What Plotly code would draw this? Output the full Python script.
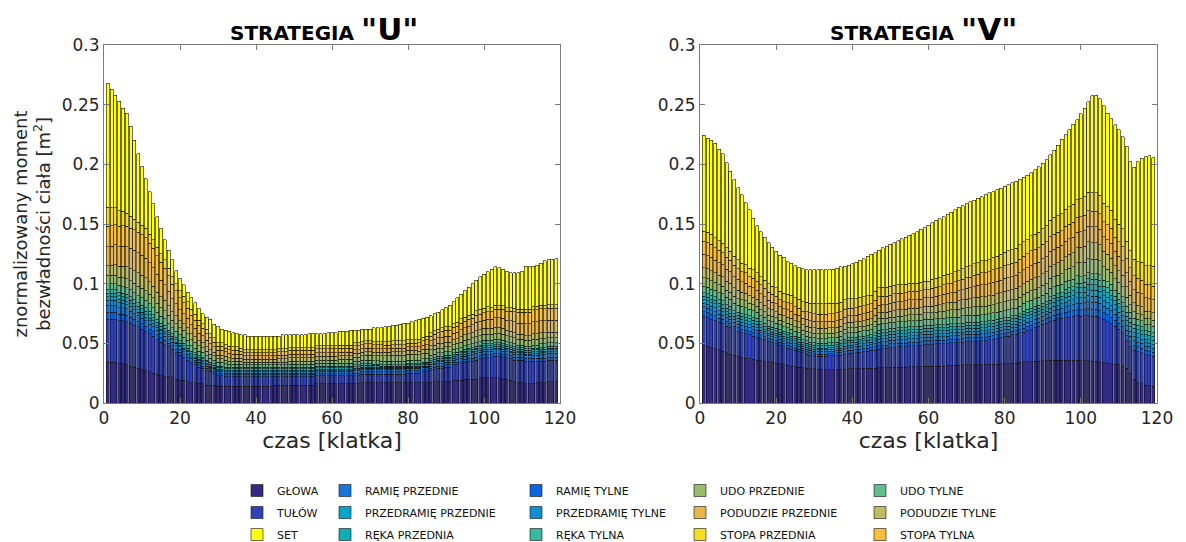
import plotly.graph_objects as go

FRAMES = list(range(1, 120))

# ---------- Strategia "U" (values in 1e-3 m^2) ----------
U_TOTAL = [
268,263,258,253,247,243,232,220,209,198,
188,177,167,156,146,137,128,120,111,104,
99,93,88,84,79,75,72,70,66,64,
62,61,60,59,58,57,57,56,56,56,
56,56,56,56,56,56,57,57,57,57,
57,57,57,58,58,58,58,58,59,59,
59,60,60,60,61,61,61,62,62,62,
63,63,63,64,64,65,65,66,67,67,
68,69,70,71,72,73,75,76,78,80,
82,85,88,91,94,97,100,103,106,108,
110,112,114,113.5,112,110.5,109,109,109,110,
114.5,114,114.5,115.5,117,119,120,120.5,121]
U_GLOWA = [
34,34,34,33,33,32,31,30,29,28,
27,26,25,24,23,22,22,21,20,19,
19,18,17,17,16,16,15,15,15,14,
14,14,14,14,14,14,14,14,14,14,
14,14,14,14,15,15,15,15,15,15,
15,15,15,15,15,16,16,16,16,16,
16,16,16,16,16,16,16,17,17,17,
17,17,17,17,17,17,17,17,17,17,
17,17,17,17,17,17,18,18,18,18,
18,19,19,19,20,20,20,20,21,21,
21,21,21,21,20,20,19,18,17,17,
16,16,16,17,17,17,18,18,18]
U_TULOW = [
36,36,36,36,36,36,36,35,35,34,
33,32,31,29,28,27,25,24,22,21,
19,18,16,15,14,13,12,11,10,9,
9,8,8,8,8,8,8,8,8,8,
8,8,8,8,7,7,7,7,7,7,
7,7,7,7,7,7,7,7,7,7,
7,7,7,7,7,7,7,7,7,7,
7,7,7,7,7,7,7,7,7,8,
8,8,8,9,9,10,10,11,11,12,
12,13,13,14,14,15,15,16,16,17,
17,17,18,18,18,18,18,18,19,19,
19,19,19,18,18,18,18,18,18]
U_RAMIE_T = [
6,6,6,5.5,5.5,5.5,5,5,4.5,4.5,
4.5,4,4,4,3.5,3.5,3,3,3,2.5,
2.5,2.5,2,2,2,2,2,1.5,1.5,1.5,
1.5,1.5,1.5,1.5,1.5,1.5,1.5,1.5,1.5,1.5,
1.5,1.5,1.5,1.5,1.5,1.5,1.5,1.5,1.5,1.5,
1.5,1.5,1.5,1.5,1.5,1.5,1.5,1.5,1.5,1.5,
1.5,1.5,1.5,1.5,1.5,2,2,2,2,2,
2,2,2,2,2,2,2,2,2,2,
2,2,2,2,2,2,2,2,2,2,
2,2,2,2,2.5,2.5,2.5,2.5,2.5,2.5,
2.5,2.5,2.5,2.5,2.5,2.5,2.5,2.5,2.5,2.5,
2.5,2.5,2.5,2.5,2.5,2.5,2.5,2.5,2.5]
U_RAMIE_P = [
6,6,6,5.5,5.5,5.5,5,5,4.5,4.5,
4.5,4,4,4,3.5,3.5,3,3,3,2.5,
2.5,2.5,2,2,2,2,2,1.5,1.5,1.5,
1.5,1.5,1.5,1.5,1.5,1.5,1.5,1.5,1.5,1.5,
1.5,1.5,1.5,1.5,1.5,1.5,1.5,1.5,1.5,1.5,
1.5,1.5,1.5,1.5,1.5,1.5,1.5,1.5,1.5,1.5,
1.5,1.5,1.5,1.5,1.5,2,2,2,2,2,
2,2,2,2,2,2,2,2,2,2,
2,2,2,2,2,2,2,2,2,2,
2,2,2.5,2.5,2.5,2.5,3,3,3,3,
3,3,3,3,3,2.5,2.5,2.5,2,2,
2,2,2.5,2.5,3,3,3,3,3]
U_PRZEDR_T = [
4,4,4,4,3.5,3.5,3.5,3,3,3,
3,3,3,2.5,2.5,2.5,2.5,2,2,2,
2,2,1.5,1.5,1.5,1.5,1,1,1,1,
1,1,1,1,1,1,1,1,1,1,
1,1,1,1,1,1,1,1,1,1,
1,1,1,1,1,1,1,1,1,1,
1,1,1,1,1,1,1,1,1,1,
1,1,1,1,1,1,1,1,1,1,
1,1,1,1,1,1.5,1.5,1.5,1.5,1.5,
1.5,1.5,1.5,1.5,1.5,1.5,1.5,1.5,1.5,1.5,
1.5,1.5,1.5,1.5,1.5,1.5,1.5,1.5,1.5,1.5,
1.5,1.5,1.5,1.5,1.5,1.5,1.5,1.5,1.5]
U_PRZEDR_P = [
3,3,3,3,2.5,2.5,2.5,2.5,2,2,
2,2,2,1.5,1.5,1.5,1.5,1,1,1,
1,1,1,1,1,1,1,1,1,1,
1,1,1,1,1,1,1,1,1,1,
1,1,1,1,1,1,1,1,1,1,
1,1,1,1,1,1,1,1,1,1,
1,1,1,1,1,1,1,1,1,1,
1,1,1,1,1,1,1,1,1,1,
1,1,1,1,1,1.5,1.5,1.5,1.5,1.5,
1.5,1.5,1.5,1.5,1.5,1.5,1.5,1.5,1.5,1.5,
1.5,1.5,1.5,1.5,1.5,1.5,1.5,1.5,1.5,1.5,
1.5,1.5,1.5,1.5,1.5,1.5,1.5,1.5,1.5]
U_REKA_P = [
3,3,3,3,3,3,3,3,3,3,
3,3,2.5,2.5,2.5,2.5,2,2,2,2,
2,2,2,2,1.5,1.5,1.5,1.5,1.5,1.5,
1.5,1.5,1.5,1.5,1.5,1.5,1.5,1.5,1.5,1.5,
1.5,1.5,1.5,1.5,1.5,1.5,1.5,1.5,1.5,1.5,
1.5,1.5,1.5,1.5,1.5,1.5,1.5,1.5,1.5,1.5,
1.5,1.5,1.5,1.5,1.5,1.5,1.5,1.5,1.5,1.5,
1.5,1.5,1,1,1,1,1,1,1,1,
1,1,1,1,1,1.5,1.5,1.5,1.5,1.5,
1.5,1.5,1.5,1.5,1.5,1.5,1.5,1.5,1.5,1.5,
1.5,1.5,1.5,1.5,1.5,1.5,1.5,1.5,1.5,1.5,
1.5,1.5,1.5,1.5,1.5,1.5,1.5,1.5,1.5]
U_REKA_T = [
3,3,3,3,3,3,3,3,3,3,
3,3,2.5,2.5,2.5,2.5,2,2,2,2,
2,2,2,1.5,1.5,1.5,1.5,1.5,1.5,1.5,
1.5,1.5,1.5,1.5,1.5,1.5,1.5,1.5,1.5,1.5,
1.5,1.5,1.5,1.5,1.5,1.5,1.5,1.5,1.5,1.5,
1.5,1.5,1.5,1.5,1.5,1.5,1.5,1.5,1.5,1.5,
1.5,1.5,1.5,1.5,1.5,1.5,1.5,1.5,1.5,1.5,
1,1,1,1,1,1,1,1,1,1,
1,1,1,1,1,1.5,1.5,1.5,1.5,1.5,
1.5,1.5,1.5,1.5,1.5,1.5,1.5,1.5,1.5,1.5,
1.5,1.5,1.5,1.5,1.5,1.5,1.5,1.5,1.5,1.5,
1.5,1.5,1.5,1.5,1.5,1.5,1.5,1.5,1.5]
U_UDO_T = [
5,5,5,5.5,5.5,5.5,6,6,6,6,
6,6,6,6,5.5,5.5,5.5,5,5,5,
5,4.5,4.5,4,4,4,3.5,3.5,3,3,
3,3,2.5,2.5,2.5,2.5,2,2,2,2,
2,2,2,2,2,2,2,2,2.5,2.5,
2.5,2.5,2.5,2.5,2.5,2.5,2.5,2.5,2.5,2.5,
2.5,2.5,2.5,2.5,2.5,3,3,3,3,3,
3,3,3,3,3,3,3,3,3,3,
3,3,3,3,3,3,3,3,3,3,
3,3,3,3,3,3,3,3,3,3,
3,3,3,3,3,2.5,2.5,2.5,2,2,
2,2,2.5,2.5,3,3,3,3,3]
U_UDO_P = [
7,7,7,7,7.5,7.5,7.5,8,8,8,
8,8,8,7.5,7.5,7,7,6.5,6.5,6,
6,5.5,5,5,4.5,4,4,3.5,3.5,3,
3,3,2.5,2.5,2.5,2.5,2,2,2,2,
2,2,2,2,2,2,2,2,2.5,2.5,
2.5,2.5,2.5,2.5,2.5,2.5,2.5,2.5,2.5,2.5,
2.5,3,3,3,3,3.5,3.5,3.5,4,4,
4,4,4.5,4.5,4.5,5,5,5,5,5,
5,5,4.5,4.5,4.5,4.5,4,4,4,4,
4,4,4.5,4.5,4.5,4.5,5,5,5,5,
5,5,5,5,5,5,5,5,5,5,
5,5,5,5,4.5,4.5,4,4,4]
U_PODUDZIE_T = [
8,8.5,9,9,9.5,10,10,10.5,11,11,
11,10.5,10,9.5,9,8.5,8,7,6.5,6,
5.5,5,5,4.5,4,4,3.5,3.5,3,3,
3,3,3,2.5,2.5,2.5,2.5,2.5,2.5,2.5,
2.5,2.5,2.5,2.5,2.5,3,3,3,3,3,
3,3,3,3,3,3,3,3,3,3,
3,3,3,3,3,3,3,3,3,3,
3,3,3,3,3,3,3,3,3,3,
3,3,3,3.5,3.5,3.5,3.5,4,4,4,
4,4,4,4.5,4.5,4.5,4.5,5,5,5,
5,5,5,5,5,4.5,4.5,4.5,4,4,
4,4,4.5,4.5,5,5,5,5,5]
U_PODUDZIE_P = [
16,16,16.5,16.5,17,17,17,17,17,17,
16.5,16,15.5,15,14,13,12,11,10,9,
8.5,8,7.5,7,6.5,6,5.5,5,4.5,4,
4,4,3.5,3.5,3.5,3.5,3,3,3,3,
3,3,3,3,3,3,3,3,3,3,
3,3,3,3,3,3,3,3,3,3,
3,3,3,3,3,3,3,3,3,3,
3,3,3,3,3,3,3,3,3,3,
3,3,3.5,3.5,4,4,4.5,4.5,5,5,
5,5.5,5.5,6,6,6.5,6.5,7,7,7,
7.5,7.5,8,8,8.5,8.5,9,9,9.5,9.5,
10,10,10,10,10,10,10,10,10]
U_STOPA_T = [
17,17,17,17,17,17,17,17,17,17,
17,16.5,16,15.5,15,14,13,12,11,10,
9,8.5,8,7,6.5,6,5.5,5,4,3.5,
3.5,3,3,3,3,2.5,2.5,2.5,2.5,2.5,
2.5,2.5,2.5,2.5,2.5,3,3,3,3,3,
3,3,3,3,3,3.5,3.5,3.5,3.5,3.5,
3.5,3.5,3.5,3.5,3.5,3.5,3.5,3.5,3.5,3.5,
3.5,3.5,3.5,3,3,3,3,3,3,3,
3,3,3.5,3.5,4,4,4.5,4.5,5,5,
5,5,5,5.5,5.5,5.5,5.5,6,6,6,
6.5,6.5,7,7,7.5,7.5,8,8.5,9,9,
9.5,9.5,10,10,10,10,10,10,10]
U_STOPA_P = [
16,15,14,13,12,11,10,9,8.5,8,
8,7.5,7.5,7,7,7,6.5,6.5,6,6,
5.5,5.5,5,5,4.5,4,4,3.5,3.5,3,
3,3,3,3,3,2.5,2.5,2.5,2.5,2.5,
2.5,2.5,2.5,2.5,2.5,2.5,2.5,2.5,2.5,2.5,
2.5,2.5,2.5,2.5,2.5,2.5,2.5,2.5,2.5,2.5,
2.5,2.5,2.5,2.5,2.5,2.5,2.5,2.5,2.5,2.5,
2.5,2.5,2.5,3,3,3,3,3,3,3,
3,3,3,3,3,3,3,3,3,3,
3,3,3,3.5,3.5,3.5,3.5,4,4,4,
4,3.5,3.5,3,3,3,3,3,2.5,2.5,
2.5,2.5,2.5,3,3,3,3,3,3]

# ---------- Strategia "V" (values in 1e-3 m^2) ----------
V_TOTAL = [
224.5,222,220,217.5,212.5,209,201.5,194,187,180.5,
174.5,168,162,155,148.5,143.5,139,134.5,130.5,127,
124,122,118.5,117,115,113.5,112.5,111.5,111.5,111.5,
111.5,111.5,111.5,111.5,112,113,114,114.5,115.5,116.5,
118,119.5,121,123,124.5,126,128,130,131.5,133,
134.5,136,137.5,139,140.5,142,143.5,145.5,147,149,
151,153,154.5,156,158,160,162,164,165.5,167,
168.5,170,171.5,173,174.5,176,177,178.5,180,181.5,
183,184.5,186,187.5,189,191,193,195.5,198,201,
204,208,212,216,221,225,229,233.5,237.5,242.5,
247,252.5,257.5,258,255,249,243,238,233,229,
223,215,202,197.5,202,205,206.5,207,205.5]
V_GLOWA = [
48.5,47.5,46.5,45.5,44.5,43.5,42,41,40,39,
38,37.5,37,36.5,36,35.5,35,34.5,34,33.5,
33,32,31.5,31,30.5,30,29.5,29,28.5,28.5,
28,28,28,28,28,28,28,28,28.5,28.5,
28.5,28.5,29,29,29,29,29.5,29.5,29.5,30,
30,30,30,30,30.5,30.5,30.5,30.5,31,31,
31,31,31,31,31.5,31.5,31.5,31.5,32,32,
32,32,32,32,32,32.5,32.5,32.5,33,33,
33,33.5,33.5,34,34,34.5,34.5,35,35,35.5,
35.5,36,36,36,36,36,36,36,36,35.5,
35.5,35.5,35,35,34.5,34,33.5,33,32.5,32,
31,29,25,20,17,16,15,14.5,14]
V_TULOW = [
24,24,23.5,23.5,23,23,22.5,22,21.5,21,
21,20.5,20,19.5,19,18.5,18,17,16.5,16,
15.5,15,14.5,14,13.5,13,12.5,12,11.5,11,
11,11,11,11.5,11.5,12,12,12.5,13,13,
13.5,14,14,14.5,15,15,15.5,16,16,16.5,
16.5,17,17,17,17.5,17.5,17.5,18,18,18,
18,18.5,18.5,18.5,18.5,19,19,19,19,19.5,
19.5,19.5,19.5,20,20,20.5,21,21.5,22,22.5,
23,23.5,24,25,25.5,26.5,27.5,28.5,29.5,30.5,
31.5,32.5,33.5,34.5,35,35.5,36,36.5,37,37,
37.5,37.5,37.5,37.5,37,36,35,33.5,32,30,
28,23,22,24,26,26,25.5,25.5,25]
V_RAMIE_T = [
4,4,4,4,3.5,3.5,3.5,3.5,3,3,
3,3,3,3,3,2.5,2.5,2.5,2.5,2.5,
2.5,2.5,2.5,2.5,2,2,2,2,2,2,
2,2,2,2,2,2,2,2.5,2.5,2.5,
2.5,2.5,2.5,2.5,2.5,3,3,3,3,3,
3,3,3,3,3,3,3,3,3,3,
3,3,3,3,3,3,3,3,3,3,
3,3,3,3,3,3,3,3,3,3,
3,3,3,3,3,3,3,3,3,3,
3.5,3.5,4,4,4,4.5,4.5,5,5,5.5,
5.5,6,6,6,6,5.5,5.5,5.5,5,5,
5,4.5,4.5,4,4,4,3.5,3.5,3.5]
V_RAMIE_P = [
4,4,4,4,3.5,3.5,3.5,3.5,3,3,
3,3,3,3,3,2.5,2.5,2.5,2.5,2.5,
2.5,2.5,2.5,2.5,2,2,2,2,2,2,
2,2,2,2,2,2,2,2.5,2.5,2.5,
2.5,2.5,2.5,2.5,2.5,3,3,3,3,3,
3,3,3,3,3,3,3,3,3,3,
3,3,3,3,3,3,3,3,3,3,
3,3,3,3,3,3,3,3,3,3,
3,3,3,3,3.5,3.5,3.5,3.5,3.5,3.5,
3.5,4,4,4,4.5,4.5,5,5,5.5,5.5,
5.5,6,6,6,6,5.5,5.5,5.5,5,5,
5,4.5,4.5,4,4,4,3.5,3.5,3.5]
V_PRZEDR_T = [
3,3,3,3,3,3,2.5,2.5,2.5,2.5,
2.5,2.5,2.5,2.5,2.5,2,2,2,2,2,
2,2,2,2,2,2,1.5,1.5,1.5,1.5,
1.5,1.5,1.5,1.5,1.5,1.5,2,2,2,2,
2,2,2,2,2,2,2.5,2.5,2.5,2.5,
2.5,2.5,2.5,2.5,2.5,2.5,2.5,2.5,2.5,2.5,
2.5,2.5,2.5,2.5,2.5,2.5,2.5,2.5,2.5,2.5,
2.5,2.5,2.5,2.5,2.5,2.5,2.5,2.5,2.5,2.5,
2.5,2.5,2.5,2.5,3,3,3,3,3,3,
3,3.5,3.5,3.5,3.5,4,4,4,4.5,4.5,
4.5,5,5,5,5,4.5,4.5,4.5,4,4,
4,4,4,3.5,3.5,3.5,3,3,3]
V_PRZEDR_P = [
3,3,3,3,3,3,2.5,2.5,2.5,2.5,
2.5,2.5,2.5,2.5,2.5,2,2,2,2,2,
2,2,2,2,2,2,1.5,1.5,1.5,1.5,
1.5,1.5,1.5,1.5,1.5,1.5,2,2,2,2,
2,2,2,2,2,2,2.5,2.5,2.5,2.5,
2.5,2.5,2.5,2.5,2.5,2.5,2.5,2.5,2.5,2.5,
2.5,2.5,2.5,2.5,2.5,2.5,2.5,2.5,2.5,2.5,
2.5,2.5,2.5,2.5,2.5,2.5,2.5,2.5,2.5,2.5,
2.5,2.5,2.5,2.5,3,3,3,3,3,3,
3,3.5,3.5,3.5,3.5,4,4,4,4.5,4.5,
4.5,5,5,5,5,4.5,4.5,4.5,4,4,
4,4,4,3.5,3.5,3.5,3,3,3]
V_REKA_P = [
3,3,3,3,3,3,3,3,2.5,2.5,
2.5,2.5,2.5,2.5,2.5,2.5,2.5,2,2,2,
2,2,2,2,2,2,2,2,2,2,
2,2,2,2,2,2,2,2,2,2,
2,2,2,2,2,2.5,2.5,2.5,2.5,2.5,
2.5,2.5,2.5,2.5,2.5,2.5,2.5,2.5,2.5,2.5,
2.5,2.5,2.5,2.5,2.5,2.5,2.5,2.5,2.5,2.5,
2.5,2.5,2.5,2.5,2.5,2.5,2.5,2.5,2.5,2.5,
2.5,2.5,2.5,2.5,2.5,2.5,2.5,2.5,2.5,2.5,
2.5,3,3,3,3,3.5,3.5,3.5,4,4,
4,4.5,4.5,4.5,4.5,4,4,4,3.5,3.5,
3.5,3.5,3.5,3.5,3.5,3.5,3.5,3.5,3.5]
V_REKA_T = [
3,3,3,3,3,3,3,3,2.5,2.5,
2.5,2.5,2.5,2.5,2.5,2.5,2.5,2,2,2,
2,2,2,2,2,2,2,2,2,2,
2,2,2,2,2,2,2,2,2,2,
2,2,2,2,2,2.5,2.5,2.5,2.5,2.5,
2.5,2.5,2.5,2.5,2.5,2.5,2.5,2.5,2.5,2.5,
2.5,2.5,2.5,2.5,2.5,2.5,2.5,2.5,2.5,2.5,
2.5,2.5,2.5,2.5,2.5,2.5,2.5,2.5,2.5,2.5,
2.5,2.5,2.5,2.5,2.5,2.5,2.5,2.5,2.5,2.5,
2.5,3,3,3,3,3.5,3.5,3.5,4,4,
4,4.5,4.5,4.5,4.5,4,4,4,3.5,3.5,
3.5,3.5,3.5,3.5,3.5,3.5,3.5,3.5,3.5]
V_UDO_T = [
5.5,5.5,5.5,5.5,6,6,6,6,6,6,
6,6,5.5,5.5,5,5,5,4.5,4.5,4.5,
4,4,4,4,4,4,4,4,4,4,
4,4,4,4,4,4,4,4.5,4.5,4.5,
4.5,4.5,4.5,4.5,4.5,5,5,5,5,5,
5,5,5,5,5,5,5,5,5,5,
5,5,5,5.5,5.5,5.5,5.5,5.5,6,6,
6,6,6,6,6,6,6,6,6,6,
6,6,6,6,6.5,6.5,6.5,6.5,6.5,7,
7,7,7,7,7,6.5,6.5,6,6,5.5,
5.5,5,5,5,5,5,5,5,5,5,
5,5,5,5,5,5,5.5,5.5,5.5]
V_UDO_P = [
7,7,7,6.5,6.5,6.5,6,6,6,5.5,
5.5,5.5,5,5,5,5,4.5,4.5,4.5,4.5,
4,4,4,4,4,4,4,4,4,4,
4,4,4,4,4,4,4,4,4,4,
4,4,4,4,4,4.5,4.5,4.5,4.5,4.5,
4.5,4.5,4.5,5,5,5,5,5,5.5,5.5,
5.5,5.5,6,6,6,6,6,6.5,6.5,6.5,
6.5,7,7,7,7,7,7,7,7,7.5,
7.5,7.5,7.5,7.5,7.5,8,8,8,8,8,
8,8.5,8.5,8.5,9,9.5,10,10.5,11,11.5,
11.5,12,12,12,11.5,11,10.5,10,9.5,9,
8.5,7.5,6.5,5.5,5,5,5,5,5]
V_PODUDZIE_T = [
8.5,8.5,8.5,8,8,8,7.5,7.5,7,7,
6.5,6.5,6.5,6,6,6,5.5,5.5,5.5,5,
5,5,5,5,5,5,4.5,4.5,4.5,4.5,
4.5,4.5,4.5,4.5,4.5,4.5,4.5,4.5,4.5,4.5,
4.5,4.5,4.5,5,5,5,5,5,5,5,
5.5,5.5,5.5,5.5,5.5,5.5,5.5,5.5,5.5,5.5,
5.5,6,6,6,6.5,6.5,6.5,7,7,7,
7.5,7.5,8,8,8,8,8,8.5,8.5,8.5,
8.5,8.5,9,9,9,9,9.5,9.5,9.5,10,
10,10,10,10.5,10.5,11,11.5,12,12.5,13,
13.5,14,14,14,13.5,13,12.5,12,11,10,
9.5,9,8,7.5,7,6.5,6,6,6]
V_PODUDZIE_P = [
11,11,11,10.5,10.5,10,10,9.5,9.5,9,
8.5,8.5,8,8,7.5,7.5,7,7,6.5,6.5,
6,6,6,6,5.5,5.5,5.5,5.5,5.5,5.5,
5.5,5.5,5.5,5.5,5.5,5.5,5.5,5.5,5.5,5.5,
5.5,6,6,6,6,6,6.5,6.5,6.5,6.5,
7,7,7,7,7,7,7,7,7,7,
7.5,7.5,7.5,8,8,8,8.5,8.5,8.5,9,
9,9.5,10,10,10,10,10.5,10.5,10.5,11,
11,11,11,11.5,11.5,11.5,12,12,12,12.5,
12.5,12.5,13,13,13,13,13,13,13,13,
13,13,13,13,13,12.5,12.5,12.5,12,12,
12,11.5,11.5,11,11,11,11,11,11]
V_STOPA_T = [
11,11,11,10.5,10.5,10,10,9.5,9.5,9,
8.5,8.5,8,8,7.5,7.5,7,7,6.5,6.5,
6,6,6,6,6,6,6,6.5,6.5,6.5,
6.5,6.5,6.5,6.5,6.5,6.5,6.5,6.5,6.5,6.5,
6.5,6.5,6.5,6.5,6.5,6.5,7,7,7,7,
7,7,7,7,7,7,7,7,7,7,
7.5,7.5,7.5,8,8,8,8.5,8.5,8.5,9,
9,9.5,9.5,10,10,10,10.5,10.5,10.5,11,
11,11,11,11.5,11.5,11.5,12,12,12,12,
12.5,12.5,12.5,12.5,12.5,12.5,12.5,12.5,12.5,12.5,
13,13,13,13,13,12.5,12.5,12.5,12,12,
12,12,11.5,11.5,11.5,11.5,11.5,11.5,11.5]
V_STOPA_P = [
8.5,8.5,8.5,8.5,8,8,8,7.5,7.5,7.5,
7,7,7,7,7,7,7,7,7,7,
7,7,7,7.5,7.5,7.5,8,8,8,8.5,
8.5,8.5,8.5,8.5,8.5,8,8,8,8,8,
7.5,7.5,7.5,7.5,7.5,7.5,7.5,7.5,7.5,7.5,
7,7,7,7,7,7,7,7,7,7,
7.5,7.5,7.5,8,8,8,8.5,8.5,9,9,
9.5,9.5,9.5,10,10,10,10.5,10.5,11,11,
11.5,11.5,11.5,12,12,12,12.5,12.5,13,13,
13.5,13.5,14,14,14,14.5,14.5,15,15,15,
15.5,15.5,15.5,15.5,15.5,15.5,15,15,15,15,
15,14.5,14,14,14,15,15.5,16,16.5]

# segment names (stack order bottom -> top), colours, legend column / rank
SEGMENTS = ["GŁOWA", "TUŁÓW", "RAMIĘ TYLNE", "RAMIĘ PRZEDNIE", "PRZEDRAMIĘ TYLNE",
            "PRZEDRAMIĘ PRZEDNIE", "RĘKA PRZEDNIA", "RĘKA TYLNA", "UDO TYLNE",
            "UDO PRZEDNIE", "PODUDZIE TYLNE", "PODUDZIE PRZEDNIE", "STOPA TYLNA",
            "STOPA PRZEDNIA", "SET"]
COLORS = ["#332a85", "#3041b8", "#0864e0", "#1678d8", "#128ed2",
          "#08a4cc", "#10acb8", "#38b8a0", "#62be88",
          "#98be6c", "#bebb60", "#e8b44c", "#fcc038",
          "#f4de24", "#ffff14"]
LEGEND_COL = {"GŁOWA": 1, "TUŁÓW": 1, "SET": 1,
              "RAMIĘ PRZEDNIE": 2, "PRZEDRAMIĘ PRZEDNIE": 2, "RĘKA PRZEDNIA": 2,
              "RAMIĘ TYLNE": 3, "PRZEDRAMIĘ TYLNE": 3, "RĘKA TYLNA": 3,
              "UDO PRZEDNIE": 4, "PODUDZIE PRZEDNIE": 4, "STOPA PRZEDNIA": 4,
              "UDO TYLNE": 5, "PODUDZIE TYLNE": 5, "STOPA TYLNA": 5}
LEGEND_RANK = {"GŁOWA": 1, "TUŁÓW": 2, "SET": 3,
               "RAMIĘ PRZEDNIE": 1, "PRZEDRAMIĘ PRZEDNIE": 2, "RĘKA PRZEDNIA": 3,
               "RAMIĘ TYLNE": 1, "PRZEDRAMIĘ TYLNE": 2, "RĘKA TYLNA": 3,
               "UDO PRZEDNIE": 1, "PODUDZIE PRZEDNIE": 2, "STOPA PRZEDNIA": 3,
               "UDO TYLNE": 1, "PODUDZIE TYLNE": 2, "STOPA TYLNA": 3}

U_LAYERS = [U_GLOWA, U_TULOW, U_RAMIE_T, U_RAMIE_P, U_PRZEDR_T, U_PRZEDR_P,
            U_REKA_P, U_REKA_T, U_UDO_T, U_UDO_P, U_PODUDZIE_T, U_PODUDZIE_P,
            U_STOPA_T, U_STOPA_P]
V_LAYERS = [V_GLOWA, V_TULOW, V_RAMIE_T, V_RAMIE_P, V_PRZEDR_T, V_PRZEDR_P,
            V_REKA_P, V_REKA_T, V_UDO_T, V_UDO_P, V_PODUDZIE_T, V_PODUDZIE_P,
            V_STOPA_T, V_STOPA_P]

for nm, arr in list(zip(SEGMENTS, U_LAYERS)) + list(zip(SEGMENTS, V_LAYERS)) + [("UT", U_TOTAL), ("VT", V_TOTAL)]:
    assert len(arr) == len(FRAMES), (nm, len(arr))


def segments(layers, total):
    """Heights of the stacked segments in m^2; SET is the remainder up to the bar top."""
    out = [[v / 1000.0 for v in lay] for lay in layers]
    rest = [max(t - sum(l[i] for l in layers), 0) / 1000.0 for i, t in enumerate(total)]
    out.append(rest)
    return out


fig = go.Figure()
for sub, (layers, total) in enumerate([(U_LAYERS, U_TOTAL), (V_LAYERS, V_TOTAL)]):
    segs = segments(layers, total)
    for name, col, vals in zip(SEGMENTS, COLORS, segs):
        lg = LEGEND_COL[name]
        fig.add_trace(go.Bar(
            x=FRAMES, y=vals, name=name,
            marker=dict(color=col, line=dict(color="#111111", width=0.6)),
            xaxis="x" if sub == 0 else "x2", yaxis="y" if sub == 0 else "y2",
            showlegend=(sub == 0), legendgroup=name, legendrank=LEGEND_RANK[name],
            legend="legend" if lg == 1 else f"legend{lg}",
            hovertemplate=name + ": %{y:.4f}<extra></extra>",
        ))

# the page body shifts the figure by 8 px; positions below are screen pixels
OFF = 8
W, H = 1186, 542
def px_x(p): return (p - OFF) / W
def px_y(p): return 1 - (p - OFF) / H

tickfont = dict(family="DejaVu Sans", size=17, color="#262626")
axis_common = dict(showline=True, linecolor="#7a7a7a", linewidth=1, mirror="ticks",
                   ticks="inside", ticklen=5, tickcolor="#7a7a7a", showgrid=False,
                   zeroline=False, tickfont=tickfont, automargin=False)
xa = dict(axis_common, range=[0, 120], tickvals=[0, 20, 40, 60, 80, 100, 120],
          title=dict(text="czas [klatka]", font=dict(family="DejaVu Sans", size=22, color="#262626"), standoff=4))
ya = dict(axis_common, range=[0, 0.3], tickvals=[0, 0.05, 0.1, 0.15, 0.2, 0.25, 0.3],
          ticktext=["0", "0.05", "0.1", "0.15", "0.2", "0.25", "0.3"])

legend_base = dict(font=dict(family="DejaVu Sans", size=11, color="#111111"),
                   bgcolor="rgba(0,0,0,0)", orientation="v", xanchor="left", yanchor="top",
                   y=px_y(476), tracegroupgap=3, traceorder="grouped")
col_text_x = [277, 365, 556, 720, 900]

fig.update_layout(
    width=W, height=H, margin=dict(l=0, r=0, t=0, b=0),
    paper_bgcolor="white", plot_bgcolor="white",
    barmode="stack", bargap=0.2,
    font=dict(family="DejaVu Sans", color="#262626"),
    xaxis=dict(xa, domain=[px_x(104), px_x(560)], anchor="y"),
    yaxis=dict(ya, domain=[px_y(403), px_y(45)], anchor="x",
               title=dict(text="znormalizowany moment<br>bezwładności ciała [m<sup>2</sup>]",
                          font=dict(family="DejaVu Sans", size=18, color="#262626"), standoff=6)),
    xaxis2=dict(xa, domain=[px_x(700), px_x(1157)], anchor="y2"),
    yaxis2=dict(ya, domain=[px_y(403), px_y(45)], anchor="x2"),
    legend=dict(legend_base, x=px_x(col_text_x[0] - 40)),
    legend2=dict(legend_base, x=px_x(col_text_x[1] - 40)),
    legend3=dict(legend_base, x=px_x(col_text_x[2] - 40)),
    legend4=dict(legend_base, x=px_x(col_text_x[3] - 40)),
    legend5=dict(legend_base, x=px_x(col_text_x[4] - 40)),
)

for cx, letter in [((104 + 560) / 2 - 8, "U"), ((700 + 1157) / 2 - 5, "V")]:
    fig.add_annotation(
        x=px_x(cx), y=px_y(29), xref="paper", yref="paper", showarrow=False,
        xanchor="center", yanchor="middle",
        text=f'<b>STRATEGIA <span style="font-size:31px">"{letter}"</span></b>',
        font=dict(family="DejaVu Sans", size=20, color="#000000"))

fig.write_html("out.html")
